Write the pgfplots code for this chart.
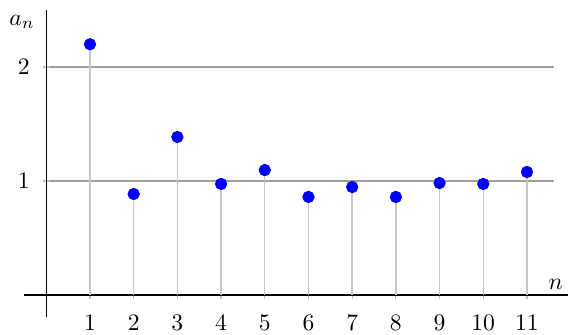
\documentclass[border=0pt]{standalone}
\usepackage{pgfplots}
\pgfplotsset{compat=1.18}
\begin{document}
\begin{tikzpicture}
\begin{axis}[
  x=18.5pt, y=48.26pt,
  xmin=0, xmax=11.62, ymin=0, ymax=2.5,
  axis lines=middle,
  axis line style={-, black, line width=0.5pt},
  x axis line style={shorten <=-9.4pt, shorten >=-6pt},
  y axis line style={shorten <=-9.3pt},
  xtick={1,...,11},
  ytick={1,2},
  ymajorgrids,
  grid style={gray!75, line width=0.6pt},
  tick style={gray!50, line width=0.5pt},
  major tick length=3pt,
  xticklabel style={yshift=-3.5pt},
  yticklabel style={xshift=-2pt},
  xlabel={$n$},
  xlabel style={at={(axis cs:11.66,0.09)}, anchor=center, inner sep=0pt},
  ylabel={$a_n$},
  ylabel style={rotate=0, at={(axis cs:-0.556,2.395)}, anchor=center, inner sep=0pt},
  clip=false,
]
\addplot[ycomb, gray!45, line width=0.6pt, no marks] coordinates {
(1,2.20) (2,0.886) (3,1.386) (4,0.974) (5,1.096) (6,0.86) (7,0.947) (8,0.86) (9,0.982) (10,0.974) (11,1.079)};
\addplot[only marks, mark=*, mark size=2.4pt, blue, mark options={fill=blue, draw=blue}] coordinates {
(1,2.20) (2,0.886) (3,1.386) (4,0.974) (5,1.096) (6,0.86) (7,0.947) (8,0.86) (9,0.982) (10,0.974) (11,1.079)};
\coordinate (bbl) at (axis cs:-1.06,-0.351);
\coordinate (btr) at (axis cs:11.94,2.588);
\end{axis}
\pgfresetboundingbox
\useasboundingbox (bbl) rectangle (btr);
\end{tikzpicture}
\end{document}
